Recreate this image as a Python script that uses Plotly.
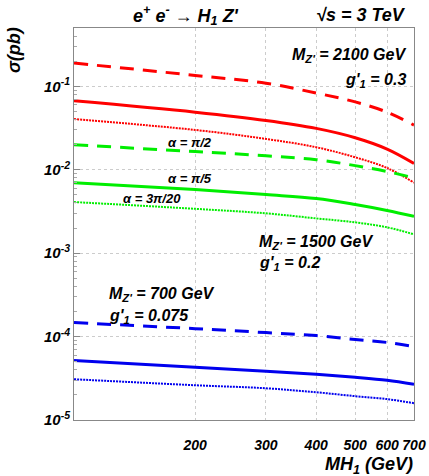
import plotly.graph_objects as go

mh = [100, 200, 300, 400, 500, 600, 700]

red_dash = [0.19, 0.135, 0.109, 0.083, 0.065, 0.049, 0.0343]
red_solid = [0.067, 0.049, 0.039, 0.0313, 0.0242, 0.0177, 0.0119]
red_dot = [0.0405, 0.030, 0.0234, 0.0186, 0.0141, 0.0105, 0.0070]
green_dash = [0.0199, 0.0165, 0.0147, 0.0132, 0.0112, 0.0095, 0.0080]
green_solid = [0.0070, 0.00578, 0.00504, 0.00452, 0.00383, 0.00325, 0.00276]
green_dot = [0.0041, 0.0034, 0.003, 0.00261, 0.00234, 0.00204, 0.00168]
blue_dash = [1.47e-4, 1.245e-4, 1.116e-4, 1.028e-4, 9.2e-5, 8.5e-5, 7.6e-5]
blue_solid = [5.18e-5, 4.28e-5, 3.83e-5, 3.53e-5, 3.25e-5, 2.99e-5, 2.68e-5]
blue_dot = [3.08e-5, 2.61e-5, 2.4e-5, 2.15e-5, 1.93e-5, 1.78e-5, 1.59e-5]

x_ticks = [200, 300, 400, 500, 600, 700]
y_ticks = [1e-5, 1e-4, 1e-3, 1e-2, 1e-1]
y_ticktext = ["10<sup>-5</sup>", "10<sup>-4</sup>", "10<sup>-3</sup>", "10<sup>-2</sup>", "10<sup>-1</sup>"]
y_minor = [m * d for d in [1e-5, 1e-4, 1e-3, 1e-2, 1e-1] for m in range(2, 10) if m * d <= 0.5]

RED = "#ff0000"
GREEN = "#00ee00"
BLUE = "#0000ee"
FONT = "Liberation Sans"

fig = go.Figure()
series = [
    (red_dash, RED, "14px,9px", 3),
    (red_solid, RED, "solid", 3),
    (red_dot, RED, "2px,1px", 2),
    (green_dash, GREEN, "14px,9px", 3),
    (green_solid, GREEN, "solid", 3),
    (green_dot, GREEN, "2px,1px", 2),
    (blue_dash, BLUE, "14px,9px", 3),
    (blue_solid, BLUE, "solid", 3),
    (blue_dot, BLUE, "2px,1px", 2),
]
for ys, c, d, w in series:
    fig.add_trace(go.Scatter(x=mh, y=ys, mode="lines", line=dict(color=c, dash=d, width=w, shape="spline"),
                             showlegend=False, hoverinfo="skip"))

tickfont = dict(family=FONT, size=14, color="black", weight="bold", style="italic")
ytickfont = dict(family=FONT, size=15, color="black", weight="bold", style="italic")
fig.update_xaxes(type="log", range=[2, 2.8451], tickvals=x_ticks, ticktext=[str(v) for v in x_ticks],
                 tickfont=tickfont, showgrid=True, gridcolor="#cccccc", griddash="dot", gridwidth=1,
                 showline=True, linecolor="#888888", linewidth=1, mirror=True, ticks="",
                 ticklabelstandoff=12, zeroline=False, automargin=False)
fig.update_yaxes(type="log", range=[-5, -0.301], tickvals=y_ticks, ticktext=y_ticktext,
                 tickfont=ytickfont, showgrid=True, gridcolor="#cccccc", griddash="dot", gridwidth=1,
                 showline=True, linecolor="#888888", linewidth=1, mirror=True,
                 ticks="inside", ticklen=6, tickcolor="#888888",
                 minor=dict(tickvals=y_minor, ticks="inside", ticklen=3, tickcolor="#aaaaaa", showgrid=False),
                 zeroline=False, automargin=False)

afont = dict(family=FONT, size=16, color="black", weight="bold", style="italic")
tfont = dict(family=FONT, size=18, color="black", weight="bold", style="italic")
sfont = dict(family=FONT, size=13, color="black", weight="bold", style="italic")

def ann(text, x, y, xa="center", font=afont, angle=0):
    fig.add_annotation(text=text, x=x, y=y, xref="paper", yref="paper", xanchor=xa, yanchor="middle",
                       showarrow=False, font=font, textangle=angle)

ann("e<sup>+</sup> e<sup>-</sup> → H<sub>1</sub> Z'", 0.33, 1.033, font=tfont)
ann("√s = 3 TeV", 0.982, 1.033, xa="right", font=tfont)
ann("σ(pb)", -0.176, 0.944, angle=-90, font=tfont)
ann("MH<sub>1</sub> (GeV)", 1.003, -0.117, xa="right", font=tfont)
ann("M<sub>Z'</sub> = 2100 GeV", 0.982, 0.931, xa="right")
ann("g'<sub>1</sub> = 0.3", 0.982, 0.867, xa="right")
ann("α = π/2", 0.341, 0.709, font=sfont)
ann("α = π/5", 0.341, 0.615, font=sfont)
ann("α = 3π/20", 0.229, 0.564, font=sfont)
ann("M<sub>Z'</sub> = 1500 GeV", 0.538, 0.454, xa="left")
ann("g'<sub>1</sub> = 0.2", 0.538, 0.398, xa="left")
ann("M<sub>Z'</sub> = 700 GeV", 0.097, 0.319, xa="left")
ann("g'<sub>1</sub> = 0.075", 0.097, 0.265, xa="left")

fig.update_layout(width=429, height=476, margin=dict(l=74, r=15, t=28, b=56),
                  paper_bgcolor="white", plot_bgcolor="white")
fig.write_html("out.html")
